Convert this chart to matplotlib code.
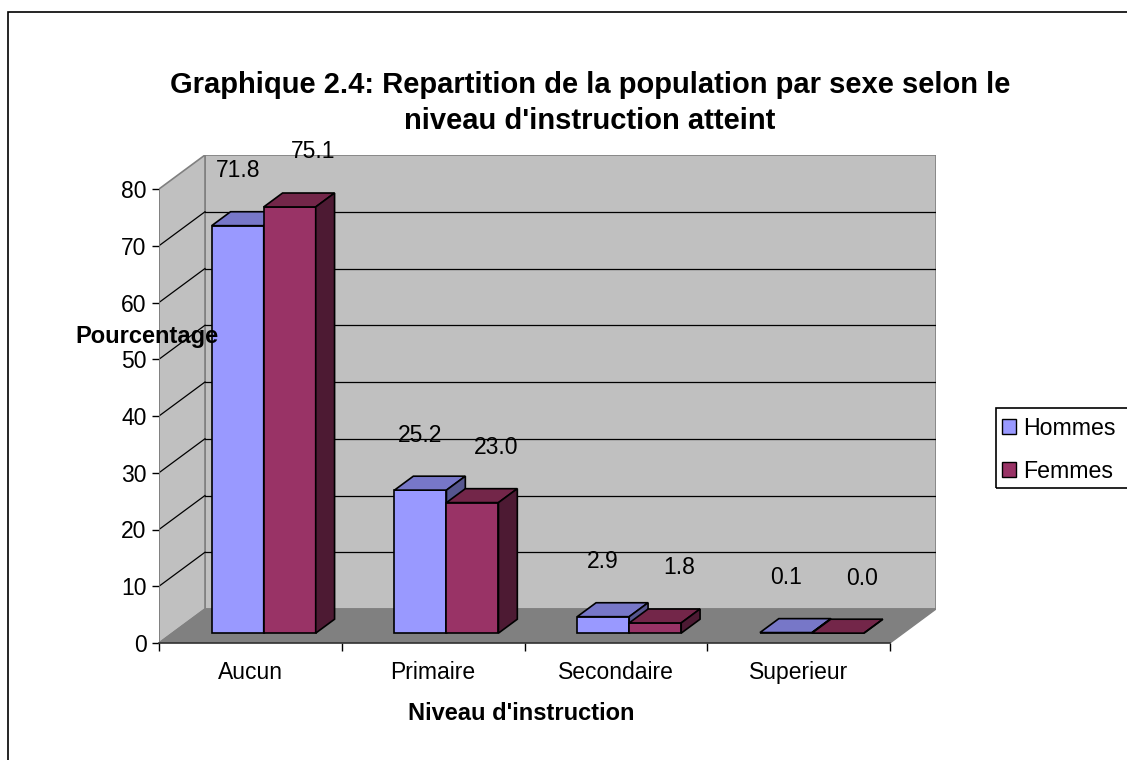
import numpy as np
import matplotlib.pyplot as plt
from matplotlib.patches import Polygon, Rectangle, Patch

plt.rcParams['font.family'] = ['Liberation Sans', 'DejaVu Sans']

niveaux = ['Aucun', 'Primaire', 'Secondaire', 'Superieur']
hommes = [71.8, 25.2, 2.9, 0.1]
femmes = [75.1, 23.0, 1.8, 0.0]
series = ['Hommes', 'Femmes']
yticks = [0, 10, 20, 30, 40, 50, 60, 70, 80]

# couleurs: face avant, dessus, cote
col_h = ('#9999ff', '#7777c8', '#56568f')
col_f = ('#993366', '#732649', '#4d1a33')

fig = plt.figure(figsize=(11.27, 7.6), dpi=100)
W, H = 1127, 760

# cadre du graphique
fig.patches.append(Rectangle((8 / W, -0.1), 1.2, 1 - 12 / H + 0.1, transform=fig.transFigure,
                             fill=False, edgecolor='black', linewidth=1.2))

# axes en pixels : gauche 159, droite 936, bas 643, haut 155
ax = fig.add_axes([159 / W, 1 - 643 / H, (936 - 159) / W, (643 - 155) / H])
n = len(niveaux)
ymax = 80
dx = 46 / ((890 - 159) / n)       # profondeur en unites de categorie
dy = 34 / ((643 - 189) / ymax)    # profondeur en unites de valeur
ax.set_xlim(0, n + dx)
ax.set_ylim(0, ymax + dy)
for s in ax.spines.values():
    s.set_visible(False)
ax.patch.set_alpha(0)

# murs
wall = '#c0c0c0'
ax.add_patch(Polygon([(dx, dy), (n + dx, dy), (n + dx, ymax + dy), (dx, ymax + dy)],
                     facecolor=wall, edgecolor='#808080', lw=1.2, zorder=1))
ax.add_patch(Polygon([(0, 0), (dx, dy), (dx, ymax + dy), (0, ymax)],
                     facecolor=wall, edgecolor='#808080', lw=1.2, zorder=1))
for v in yticks[1:-1]:
    ax.plot([dx, n + dx], [v + dy, v + dy], color='black', lw=0.9, zorder=2)
    ax.plot([0, dx], [v, v + dy], color='black', lw=0.9, zorder=2)
# sol
ax.add_patch(Polygon([(0, 0), (n, 0), (n + dx, dy), (dx, dy)],
                     facecolor='#808080', edgecolor='#808080', lw=1, zorder=3))
ax.plot([0, 0], [0, ymax], color='#808080', lw=1.2, zorder=3)
ax.plot([0, n], [0, 0], color='#303030', lw=1.2, zorder=3, clip_on=False)

# barres 3D
w = 0.2845
f0, f1 = 0.29, 0.70
ddx, ddy = (f1 - f0) * dx, (f1 - f0) * dy
x = np.arange(n)
z = 4
for i in range(n):
    for j, (vals, cols) in enumerate([(hommes, col_h), (femmes, col_f)]):
        v = vals[i]
        xl = x[i] + (1 - 2 * w) / 2 + j * w + f0 * dx
        b = f0 * dy
        ax.bar(xl, v, width=w, bottom=b, align='edge', color=cols[0],
               edgecolor='black', linewidth=1.2, zorder=z)
        ax.add_patch(Polygon([(xl, v + b), (xl + w, v + b), (xl + w + ddx, v + b + ddy),
                              (xl + ddx, v + b + ddy)], facecolor=cols[1],
                             edgecolor='black', lw=1.2, zorder=z))
        ax.add_patch(Polygon([(xl + w, b), (xl + w, v + b), (xl + w + ddx, v + b + ddy),
                              (xl + w + ddx, b + ddy)], facecolor=cols[2],
                             edgecolor='black', lw=1.2, zorder=z))
        z += 1
        ax.text(xl + w / 2 + j * 0.13, v + b + 9.7, f'{v:.1f}', ha='center', va='center',
                fontsize=16.5, zorder=20)

# axes et etiquettes
ax.set_yticks(yticks)
ax.set_yticklabels([str(t) for t in yticks], fontsize=16.5)
ax.tick_params(axis='y', length=5, width=1, pad=4, color='black')
ax.set_xticks(np.arange(n + 1))
ax.set_xticklabels([])
ax.set_xticks(x + 0.5, minor=True)
ax.set_xticklabels(niveaux, minor=True, fontsize=16.5)
ax.tick_params(axis='x', which='major', length=6, width=1, direction='out')
ax.tick_params(axis='x', which='minor', length=0, pad=13)

fig.text(147 / W, 1 - 336 / H, 'Pourcentage', fontsize=17, fontweight='bold',
         ha='center', va='center', zorder=30)
fig.text(521 / W, 1 - 714 / H, "Niveau d'instruction", fontsize=17, fontweight='bold',
         ha='center', va='center')
fig.text(590 / W, 1 - 103 / H,
         "Graphique 2.4: Repartition de la population par sexe selon le\nniveau d'instruction atteint",
         fontsize=21, fontweight='bold', ha='center', va='center', linespacing=1.38)

# legende : cadre dessine a part, il depasse a droite
fig.patches.append(Rectangle((996 / W, 1 - 488 / H), 0.2, 80 / H, transform=fig.transFigure,
                             fill=False, edgecolor='black', linewidth=1.2))
handles = [Patch(facecolor=col_h[0], edgecolor='black'), Patch(facecolor=col_f[0], edgecolor='black')]
fig.legend(handles, series, loc='upper left', bbox_to_anchor=(1002 / W, 1 - 417 / H),
           fontsize=16.7, frameon=False, handlelength=0.6, handleheight=0.6,
           handletextpad=0.3, borderpad=0, labelspacing=0.85, borderaxespad=0)

fig.savefig('out.png', dpi=100)
